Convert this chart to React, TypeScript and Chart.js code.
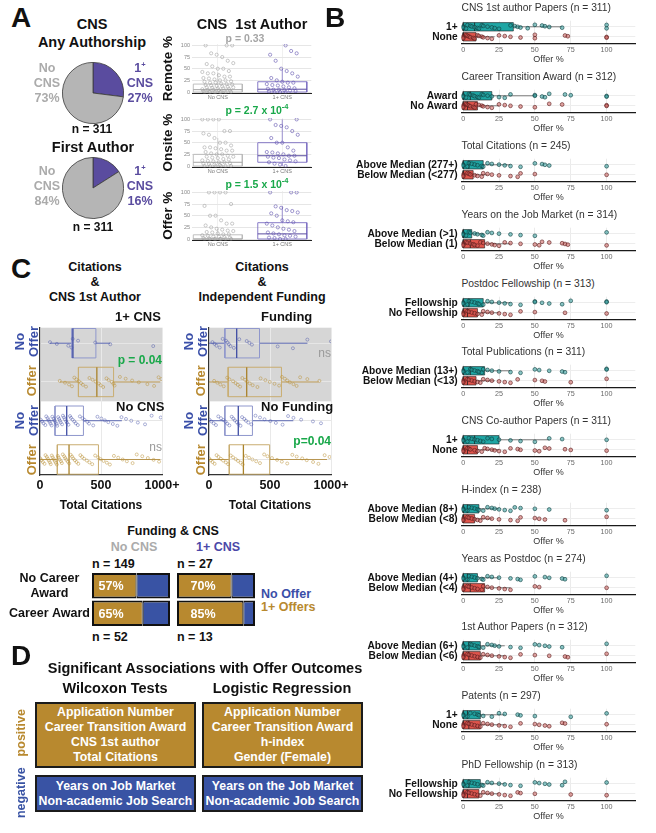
import React, { useEffect, useRef } from "react";
import { Chart, registerables } from "chart.js";

Chart.register(...registerables);

const FONT = "'Liberation Sans', Arial, Helvetica, sans-serif";
Chart.defaults.font.family = FONT;

// ================= DATA =================
// Panel A : pies
const PIE_CATS = ["1+ CNS", "No CNS"];
const PIE_ANY_AUTHOR = [27, 73];
const PIE_FIRST_AUTHOR = [16, 84];

// Panel A : box plots  (box = [low whisker, q1, median, q3, high whisker])
const A_CATS = ["No CNS", "1+ CNS"];
const A_METRICS = ["Remote %", "Onsite %", "Offer %"];
const A_Y_TICKS = [0, 25, 50, 75, 100];
const A_BOX_NO_CNS = [[0, 0, 5, 17, 42], [0, 0, 8, 25, 60], [0, 0, 0, 9, 22]];
const A_BOX_CNS = [[0, 0, 6, 22, 50], [0, 8, 22, 50, 100], [0, 0, 11, 35, 70]];
const A_PTS_NO_CNS = [
  [0, 0, 0, 0, 0, 0, 0, 0, 1, 2, 3, 3, 4, 5, 5, 6, 7, 8, 8, 9, 10, 10, 11, 12, 13, 14, 15, 16, 17, 18, 20, 20, 22, 23, 25, 25, 27, 29, 30, 33, 33, 36, 40, 40, 43, 45, 50, 50, 55, 60, 62, 67, 75, 80, 83, 100, 100, 100],
  [0, 0, 0, 0, 0, 0, 2, 3, 4, 5, 6, 8, 8, 10, 11, 12, 14, 15, 17, 18, 20, 20, 22, 25, 25, 27, 30, 33, 33, 36, 38, 40, 40, 44, 50, 50, 60, 67, 70, 75, 75, 100, 100, 100, 100],
  [0, 0, 0, 0, 0, 0, 0, 0, 1, 2, 3, 4, 5, 5, 7, 8, 10, 10, 12, 14, 15, 17, 18, 20, 22, 25, 29, 33, 33, 40, 50, 50, 71, 75, 100, 100, 100, 100],
];
const A_PTS_CNS = [
  [0, 0, 0, 1, 2, 3, 4, 5, 5, 7, 8, 10, 12, 14, 15, 17, 20, 20, 22, 25, 30, 33, 40, 45, 50, 67, 80, 83, 88, 100],
  [0, 3, 5, 8, 10, 12, 14, 17, 18, 20, 22, 22, 25, 27, 29, 30, 33, 40, 50, 50, 60, 67, 75, 83, 86, 88, 100, 100],
  [0, 0, 2, 3, 5, 7, 8, 10, 12, 14, 17, 20, 22, 25, 29, 33, 36, 38, 40, 50, 55, 57, 60, 62, 67, 70, 100, 100, 100],
];

// Panel B : horizontal box plots of Offer %
const B_TITLES = [
  "CNS 1st author Papers (n = 311)",
  "Career Transition Award (n = 312)",
  "Total Citations (n = 245)",
  "Years on the Job Market (n = 314)",
  "Postdoc Fellowship (n = 313)",
  "Total Publications (n = 311)",
  "CNS Co-author Papers (n = 311)",
  "H-index (n = 238)",
  "Years as Postdoc (n = 274)",
  "1st Author Papers (n = 312)",
  "Patents (n = 297)",
  "PhD Fellowship (n = 313)",
];
const B_TOP_LABELS = ["1+", "Award", "Above Median (277+)", "Above Median (>1)", "Fellowship", "Above Median (13+)", "1+", "Above Median (8+)", "Above Median (4+)", "Above Median (6+)", "1+", "Fellowship"];
const B_BOTTOM_LABELS = ["None", "No Award", "Below Median (<277)", "Below Median (1)", "No Fellowship", "Below Median (<13)", "None", "Below Median (<8)", "Below Median (<4)", "Below Median (<6)", "None", "No Fellowship"];
const B_X_TICK_STEP = 25;
const B_TOP_BOX = [
  [0, 0, 8, 35, 69], [0, 0, 5, 20, 50], [0, 0, 4, 14, 33], [0, 0, 0, 6, 14],
  [0, 0, 4, 14, 33], [0, 0, 5, 15, 33], [0, 0, 8, 25, 60], [0, 0, 3, 11, 25],
  [0, 0, 3, 10, 25], [0, 0, 4, 12, 29], [0, 0, 3, 12, 29], [0, 0, 4, 12, 29],
];
const B_BOTTOM_BOX = [
  [0, 0, 0, 9, 22], [0, 0, 3, 10, 25], [0, 0, 0, 7, 17], [0, 0, 5, 15, 33],
  [0, 0, 3, 10, 25], [0, 0, 3, 9, 22], [0, 0, 3, 10, 25], [0, 0, 0, 8, 20],
  [0, 0, 5, 15, 33], [0, 0, 4, 12, 29], [0, 0, 4, 12, 29], [0, 0, 3, 11, 25],
];
const B_TOP_PTS = [
  [0, 0, 0, 2, 3, 5, 6, 8, 10, 11, 13, 14, 17, 20, 22, 25, 33, 36, 38, 40, 45, 50, 55, 57, 60, 69, 100, 100],
  [0, 0, 0, 2, 4, 5, 7, 8, 10, 11, 13, 14, 17, 20, 25, 29, 33, 50, 50, 55, 57, 60, 71, 75, 100, 100],
  [0, 0, 0, 3, 4, 6, 8, 10, 13, 14, 17, 20, 25, 29, 33, 40, 50, 55, 57, 60, 100],
  [0, 0, 0, 2, 4, 5, 8, 10, 13, 14, 17, 20, 25, 33, 40, 50, 100],
  [0, 0, 0, 3, 4, 6, 8, 10, 11, 14, 17, 20, 25, 29, 33, 40, 50, 50, 55, 60, 69, 75, 100, 100],
  [0, 0, 0, 3, 5, 6, 8, 10, 11, 13, 14, 17, 20, 25, 33, 40, 50, 53, 60, 69, 71, 100, 100],
  [0, 0, 0, 3, 4, 6, 8, 10, 12, 14, 17, 20, 25, 33, 40, 50, 60, 69, 100],
  [0, 0, 0, 3, 4, 6, 8, 10, 11, 14, 17, 20, 22, 25, 29, 33, 36, 40, 50, 60, 100],
  [0, 0, 0, 3, 4, 6, 8, 10, 13, 14, 17, 20, 25, 33, 38, 40, 50, 57, 60, 69, 71, 100],
  [0, 0, 0, 3, 5, 6, 8, 10, 11, 14, 17, 20, 22, 25, 33, 40, 50, 53, 57, 60, 69, 100],
  [0, 0, 0, 3, 5, 8, 10, 11, 14, 20, 25, 29, 38, 40, 50, 75, 100],
  [0, 0, 0, 3, 4, 6, 8, 10, 13, 14, 17, 20, 25, 29, 33, 40, 50, 53, 57, 60, 69, 71, 100],
];
const B_BOTTOM_PTS = [
  [0, 0, 0, 0, 2, 3, 4, 5, 7, 8, 10, 11, 13, 14, 17, 20, 25, 29, 33, 40, 50, 50, 71, 73, 100, 100],
  [0, 0, 0, 0, 2, 3, 4, 5, 7, 8, 9, 11, 13, 14, 17, 20, 25, 29, 33, 40, 50, 60, 69, 100, 100],
  [0, 0, 0, 0, 3, 4, 5, 8, 10, 13, 14, 17, 20, 25, 33, 38, 40, 50, 100],
  [0, 0, 0, 0, 2, 3, 5, 7, 8, 10, 12, 14, 17, 20, 22, 25, 29, 33, 40, 50, 53, 55, 60, 69, 71, 73, 100],
  [0, 0, 0, 0, 3, 4, 6, 8, 10, 13, 14, 17, 20, 25, 29, 33, 40, 50, 71, 100],
  [0, 0, 0, 0, 3, 4, 6, 8, 10, 12, 14, 17, 20, 25, 29, 33, 38, 50, 55, 57, 75, 100],
  [0, 0, 0, 0, 3, 4, 5, 8, 10, 13, 15, 17, 20, 22, 25, 29, 33, 38, 40, 50, 53, 57, 60, 71, 75, 100],
  [0, 0, 0, 0, 3, 4, 6, 8, 10, 12, 14, 17, 20, 25, 33, 38, 40, 50, 53, 57, 71, 100],
  [0, 0, 0, 0, 3, 4, 6, 8, 10, 13, 14, 17, 20, 25, 29, 33, 50, 53, 100],
  [0, 0, 0, 0, 3, 4, 6, 8, 10, 12, 14, 17, 20, 25, 29, 33, 40, 50, 60, 71, 73, 100],
  [0, 0, 0, 0, 3, 4, 6, 8, 10, 12, 14, 17, 20, 25, 29, 33, 40, 50, 53, 57, 60, 69, 71, 100],
  [0, 0, 0, 0, 3, 4, 6, 8, 10, 12, 14, 17, 20, 25, 29, 33, 38, 40, 50, 75, 100],
];

// Panel C : citations box plots  (rows: upper No Offer, upper Offer, lower No Offer, lower Offer)
const C_X_TICKS = [0, 500, 1000];
const C1_FACETS = ["1+ CNS", "No CNS"];
const C1_BOX = [[82, 262, 270, 458, 576], [164, 315, 466, 603, 986], [0, 123, 219, 356, 671], [0, 142, 238, 479, 986]];
const C1_PTS = [
  [82, 138, 232, 258, 268, 312, 452, 576, 928],
  [162, 205, 238, 262, 281, 298, 318, 336, 352, 377, 405, 431, 456, 482, 497, 518, 545, 563, 588, 602, 611, 655, 702, 755, 810, 880, 935, 972, 995],
  [5, 18, 29, 44, 51, 63, 70, 78, 86, 95, 101, 112, 119, 127, 136, 141, 149, 157, 163, 170, 181, 188, 196, 204, 215, 221, 233, 246, 254, 267, 281, 293, 310, 327, 349, 366, 388, 402, 436, 471, 503, 532, 560, 597, 634, 668, 705, 748, 802, 861, 915, 990],
  [2, 12, 24, 37, 45, 56, 64, 72, 81, 88, 97, 104, 113, 121, 129, 138, 146, 153, 161, 172, 179, 187, 198, 207, 216, 228, 239, 251, 263, 272, 286, 299, 314, 331, 345, 362, 384, 405, 428, 452, 476, 497, 521, 548, 573, 606, 641, 678, 712, 759, 793, 838, 884, 931, 976],
];
const C2_FACETS = ["Funding", "No Funding"];
const C2_BOX = [[0, 130, 227, 414, 807], [0, 157, 309, 594, 898], [0, 130, 240, 356, 691], [0, 166, 282, 497, 967]];
const C2_PTS = [
  [28, 46, 61, 88, 112, 139, 152, 163, 176, 204, 248, 309, 331, 352, 563, 688, 806, 1000],
  [42, 68, 93, 121, 149, 168, 197, 218, 236, 255, 273, 296, 312, 334, 358, 397, 423, 462, 498, 537, 575, 598, 622, 641, 663, 692, 718, 747, 806, 905],
  [3, 19, 38, 57, 76, 98, 118, 136, 149, 167, 186, 199, 212, 228, 241, 258, 271, 289, 303, 322, 347, 381, 418, 455, 503, 548, 603, 648, 692, 755, 852, 918],
  [1, 14, 29, 46, 62, 78, 97, 116, 138, 157, 178, 197, 219, 238, 259, 277, 301, 328, 356, 387, 418, 452, 479, 516, 558, 597, 641, 683, 719, 764, 801, 853, 897, 948, 988],
];

// Panel C : Funding & CNS stacked bars
const F_ROWS = [["No Career", "Award"], "Career Award"];
const F_NO_CNS_OFFER = [57, 65];
const F_NO_CNS_NO_OFFER = [43, 35];
const F_CNS_OFFER = [70, 85];
const F_CNS_NO_OFFER = [30, 15];
const F_NO_CNS_N = [149, 52];
const F_CNS_N = [27, 13];

// Panel D
const D_WILCOXON_POS = ["Application Number", "Career Transition Award", "CNS 1st author", "Total Citations"];
const D_LOGISTIC_POS = ["Application Number", "Career Transition Award", "h-index", "Gender (Female)"];
const D_WILCOXON_NEG = ["Years on Job Market", "Non-academic Job Search"];
const D_LOGISTIC_NEG = ["Years on the Job Market", "Non-academic Job Search"];

// ================= STYLE =================
const GOLD = "#B8892F";
const BLUE = "#3953A4";
const PURPLE = "#5A4C9F";
const PIE_GRAY = "#B5B5B5";
const TXT_GRAY = "#ABABAB";
const GREEN = "#19A84A";
const ROW_BLUE = "#3A4FA8";

// deterministic jitter (position only)
const jit = (i: number, amp: number) => ((((i * 53 + 17) % 29) / 28) - 0.5) * 2 * amp;

type St = { edge: string; fill: string | false; med: string; whisk: string; lw: number; mw: number };

function boxSets(pos: number, b: number[], half: number, horiz: boolean, s: St) {
  const [lo, q1, med, q3, hi] = b;
  const P = (v: number, p: number) => (horiz ? { x: v, y: p } : { x: p, y: v });
  const line = (data: any[], color: string, w: number, extra: any = {}) => ({
    data, borderColor: color, borderWidth: w, pointRadius: 0, showLine: true, fill: false, tension: 0, ...extra,
  });
  return [
    line([P(med, pos - half), P(med, pos + half)], s.med, s.mw),
    line([P(q1, pos - half), P(q3, pos - half), P(q3, pos + half), P(q1, pos + half), P(q1, pos - half)], s.edge, s.lw,
      s.fill ? { fill: "shape", backgroundColor: s.fill } : {}),
    line([P(lo, pos), P(q1, pos)], s.whisk, s.lw),
    line([P(q3, pos), P(hi, pos)], s.whisk, s.lw),
  ];
}

function pts(vals: number[], pos: number, amp: number, horiz: boolean, r: number, border: string, bg: string, bw: number) {
  return {
    data: vals.map((v, i) => (horiz ? { x: v, y: pos + jit(i, amp) } : { x: pos + jit(i, amp), y: v })),
    showLine: false, pointRadius: r, pointBorderColor: border, pointBackgroundColor: bg, pointBorderWidth: bw,
    borderWidth: 0, fill: false,
  };
}

const baseOpts = {
  animation: false as const,
  responsive: false,
  events: [] as any[],
  plugins: { legend: { display: false }, tooltip: { enabled: false } },
};

const fixW = (w: number) => (s: any) => { s.width = w; s.paddingTop = 0; s.paddingBottom = 0; };

// ---------- chart configs ----------
const pieConfig = (vals: number[]) => () => ({
  type: "pie",
  data: {
    labels: PIE_CATS,
    datasets: [{ data: vals, backgroundColor: [PURPLE, PIE_GRAY], borderColor: "#3a3a3a", borderWidth: 0.8, hoverOffset: 0 }],
  },
  options: { ...baseOpts, layout: { padding: 0 } },
});

const aBoxConfig = (k: number) => () => {
  const grayS: St = { edge: "#B8B8B8", fill: false, med: "#A5A5A5", whisk: "#CACACA", lw: 0.9, mw: 1 };
  const purS: St = { edge: "#7B6DC2", fill: false, med: "#5A4C9F", whisk: "#9085CC", lw: 0.9, mw: 1 };
  const datasets = [
    pts(A_PTS_NO_CNS[k], 1, 0.24, false, 1.6, "rgba(160,160,160,0.8)", "rgba(0,0,0,0)", 0.7),
    pts(A_PTS_CNS[k], 2, 0.24, false, 1.6, "rgba(98,84,175,0.85)", "rgba(0,0,0,0)", 0.7),
    ...boxSets(1, A_BOX_NO_CNS[k], 0.38, false, grayS),
    ...boxSets(2, A_BOX_CNS[k], 0.38, false, purS),
  ];
  return {
    type: "line",
    data: { datasets },
    options: {
      ...baseOpts,
      layout: { padding: { top: 8, right: 4, left: 0, bottom: 0 } },
      scales: {
        x: {
          type: "linear", min: 0.6, max: 2.45,
          afterBuildTicks: (s: any) => { s.ticks = [{ value: 1 }, { value: 2 }]; },
          ticks: { callback: (v: any) => A_CATS[Math.round(v) - 1], font: { size: 5.5 }, color: "#777", padding: 1, maxRotation: 0, autoSkip: false },
          grid: { color: "#F0F0F0", drawTicks: false },
          border: { display: true, color: "#222", width: 1 },
          afterFit: (s: any) => { s.height = 8.6; },
        },
        y: {
          type: "linear", min: -3, max: 103,
          afterBuildTicks: (s: any) => { s.ticks = A_Y_TICKS.map((v) => ({ value: v })); },
          ticks: { font: { size: 5.5 }, color: "#888", padding: 2, autoSkip: false },
          grid: { color: "#E6E6E6", drawTicks: false },
          border: { display: false },
          title: { display: true, text: A_METRICS[k], font: { size: 13.5, weight: "bold" }, color: "#111", padding: 0 },
          afterFit: fixW(32),
        },
      },
    },
  };
};

const bConfig = (i: number) => () => {
  const tealS: St = { edge: "#1d1d1d", fill: "#1FA6A4", med: "#1d1d1d", whisk: "#2a2a2a", lw: 0.6, mw: 0.8 };
  const redS: St = { edge: "#1d1d1d", fill: "#E0554C", med: "#1d1d1d", whisk: "#2a2a2a", lw: 0.6, mw: 0.8 };
  const datasets = [
    pts(B_TOP_PTS[i], 1, 0.2, true, 1.9, "rgba(12,62,62,0.85)", "rgba(40,150,150,0.55)", 0.7),
    pts(B_BOTTOM_PTS[i], 0, 0.2, true, 1.9, "rgba(90,25,25,0.85)", "rgba(200,90,85,0.55)", 0.7),
    ...boxSets(1, B_TOP_BOX[i], 0.42, true, tealS),
    ...boxSets(0, B_BOTTOM_BOX[i], 0.42, true, redS),
  ];
  return {
    type: "line",
    data: { datasets },
    options: {
      ...baseOpts,
      layout: { padding: { top: 2, right: 4, left: 0, bottom: 0 } },
      scales: {
        x: {
          type: "linear", min: -1, max: 120,
          ticks: { stepSize: B_X_TICK_STEP, includeBounds: false, font: { size: 7.2 }, color: "#6a6a6a", padding: 3, maxRotation: 0 },
          grid: { color: "#EBEBEB", drawTicks: false },
          border: { display: true, color: "#1a1a1a", width: 1.3 },
          title: { display: true, text: "Offer %", font: { size: 9 }, color: "#333", padding: { top: 0, bottom: 0 } },
          afterFit: (s: any) => { s.height = 21.8; },
        },
        y: {
          type: "linear", min: -0.64, max: 1.61,
          afterBuildTicks: (s: any) => { s.ticks = [{ value: 0 }, { value: 1 }]; },
          ticks: { callback: (v: any) => (v === 1 ? B_TOP_LABELS[i] : B_BOTTOM_LABELS[i]), font: { size: 10.2, weight: "bold" }, color: "#111", padding: 4, autoSkip: false },
          grid: { color: "#EDEDED", drawTicks: false },
          border: { display: false },
          afterFit: fixW(126.7),
        },
      },
    },
  };
};

const facetBg = {
  id: "facetBg",
  beforeDraw(chart: any) {
    const { ctx, chartArea: a, scales } = chart;
    const top = a.top;
    const bot = scales.y.getPixelForValue(1.5);
    ctx.save();
    ctx.fillStyle = "#D6D6D6";
    ctx.fillRect(a.left, top, a.right - a.left, bot - top);
    ctx.restore();
  },
};

const cConfig = (boxes: number[][], points: number[][]) => () => {
  const noS: St = { edge: "#8F97CC", fill: false, med: "#3E4CA3", whisk: "#5B68B2", lw: 1, mw: 1.3 };
  const ofS: St = { edge: "#C9AD70", fill: false, med: "#A9822A", whisk: "#B89550", lw: 1, mw: 1.3 };
  const datasets: any[] = [];
  points.forEach((p, r) => {
    datasets.push(pts(p, 3 - r, 0.13, true, 1.5, r % 2 === 0 ? "rgba(75,85,170,0.65)" : "rgba(185,145,55,0.7)", "rgba(0,0,0,0)", 0.7));
  });
  boxes.forEach((b, r) => {
    datasets.push(...boxSets(3 - r, b, 0.38, true, r % 2 === 0 ? noS : ofS));
  });
  return {
    type: "line",
    data: { datasets },
    plugins: [facetBg],
    options: {
      ...baseOpts,
      layout: { padding: { top: 2, right: 22, left: 8, bottom: 0 } },
      scales: {
        x: {
          type: "linear", min: 0, max: 1000,
          afterBuildTicks: (s: any) => { s.ticks = C_X_TICKS.map((v) => ({ value: v })); },
          ticks: { callback: (v: any) => (v === 1000 ? "1000+" : String(v)), font: { size: 12.5, weight: "bold" }, color: "#111", padding: 3, maxRotation: 0, autoSkip: false },
          grid: { color: "#E9E9E9", drawTicks: false },
          border: { display: true, color: "#333", width: 1.2 },
          title: { display: true, text: "Total Citations", font: { size: 12, weight: "bold" }, color: "#111", padding: { top: 0, bottom: 2 } },
          afterFit: (s: any) => { s.height = 40; },
        },
        y: {
          type: "linear", min: -0.4, max: 3.4,
          afterBuildTicks: (s: any) => { s.ticks = [0, 1, 2, 3].map((v) => ({ value: v })); },
          ticks: { display: false },
          grid: { color: "#E6E6E6", drawTicks: false },
          border: { display: true, color: "#333", width: 1.2 },
          afterFit: fixW(0),
        },
      },
    },
  };
};

const pctPlugin = (offset: number) => ({
  id: "pctLabels",
  afterDatasetsDraw(chart: any) {
    const meta = chart.getDatasetMeta(0);
    const ctx = chart.ctx;
    ctx.save();
    ctx.fillStyle = "#FFFFFF";
    ctx.font = `bold 12.5px ${FONT}`;
    ctx.textAlign = "center";
    ctx.textBaseline = "middle";
    meta.data.forEach((el: any, i: number) => {
      const v = chart.data.datasets[0].data[i];
      const base = chart.scales.x.getPixelForValue(0);
      ctx.fillText(`${v}%`, base + offset, el.y + 1);
    });
    ctx.restore();
  },
});

const fundConfig = (offer: number[], noOffer: number[], showLabels: boolean, offset: number) => () => ({
  type: "bar",
  data: {
    labels: F_ROWS,
    datasets: [
      { data: offer, backgroundColor: GOLD, borderColor: "#111", borderWidth: { top: 2, bottom: 2, left: 2, right: 1 }, borderSkipped: false, barPercentage: 0.93, categoryPercentage: 1 },
      { data: noOffer, backgroundColor: BLUE, borderColor: "#111", borderWidth: { top: 2, bottom: 2, left: 1, right: 2 }, borderSkipped: false, barPercentage: 0.93, categoryPercentage: 1 },
    ],
  },
  plugins: [pctPlugin(offset)],
  options: {
    ...baseOpts,
    indexAxis: "y",
    layout: { padding: { top: 2, bottom: 2, left: showLabels ? 0 : 2, right: 2 } },
    scales: {
      x: { type: "linear", stacked: true, min: 0, max: 100, display: false },
      y: {
        type: "category", stacked: true, display: true,
        grid: { display: false }, border: { display: false },
        ticks: { display: showLabels, crossAlign: "center", font: { size: 12.5, weight: "bold" }, color: "#111", padding: -6, autoSkip: false },
        afterFit: fixW(showLabels ? 86 : 0),
      },
    },
  },
});

// ---------- components ----------
function ChartCanvas({ left, top, width, height, make }: { left: number; top: number; width: number; height: number; make: () => any }) {
  const ref = useRef<HTMLCanvasElement>(null);
  useEffect(() => {
    const chart = new Chart(ref.current as HTMLCanvasElement, make());
    return () => chart.destroy();
  }, []);
  return (
    <div style={{ position: "absolute", left, top, width, height }}>
      <canvas ref={ref} width={width} height={height} style={{ width, height, display: "block" }} />
    </div>
  );
}

function Block({ x, y, lines, size = 12.5, lh, color = "#111", bold = true, align = "center", w = 240, pre = false }: any) {
  const L = lh ?? size * 1.2;
  const h = lines.length * L;
  let left = x;
  if (align === "center") left = x - w / 2;
  else if (align === "right") left = x - w;
  return (
    <div style={{ position: "absolute", left, top: y - h / 2, width: w, height: h, fontSize: size, lineHeight: `${L}px`, color, fontWeight: bold ? 700 : 400, textAlign: align, whiteSpace: pre ? "pre" : "nowrap" }}>
      {lines.map((l: any, i: number) => <div key={i}>{l}</div>)}
    </div>
  );
}

function RBlock({ x, y, lines, size = 13, lh = 13.5, color }: any) {
  const h = lines.length * lh;
  const w = 120;
  return (
    <div style={{ position: "absolute", left: x - w / 2, top: y - h / 2, width: w, height: h, transform: "rotate(-90deg)", transformOrigin: "50% 50%", fontSize: size, lineHeight: `${lh}px`, fontWeight: 700, color, textAlign: "center", whiteSpace: "nowrap" }}>
      {lines.map((l: any, i: number) => <div key={i}>{l}</div>)}
    </div>
  );
}

const sup = (t: string) => <span style={{ fontSize: 7.5, verticalAlign: "5px", lineHeight: 0 }}>{t}</span>;

function DBox({ left, top, width, height, bg, lines }: any) {
  return (
    <div style={{ position: "absolute", left, top, width, height, background: bg, border: "2.5px solid #1b1b1b", boxSizing: "border-box", color: "#fff", fontWeight: 700, fontSize: 12.3, lineHeight: "15px", textAlign: "center", display: "flex", flexDirection: "column", justifyContent: "center", whiteSpace: "nowrap" }}>
      {lines.map((l: string, i: number) => <div key={i}>{l}</div>)}
    </div>
  );
}

export default function App() {
  const A_TOPS = [44.3, 117.6, 190.9];
  return (
    <div style={{ position: "absolute", left: 0, top: 0, width: 656, height: 833, background: "#fff", fontFamily: FONT, overflow: "hidden" }}>
      {/* ===== Panel A ===== */}
      <Block x={11} y={18} lines={["A"]} size={28} align="left" w={40} />
      <Block x={92} y={25} lines={["CNS"]} size={14.5} />
      <Block x={92} y={43} lines={["Any Authorship"]} size={14.5} />
      <ChartCanvas left={62} top={62} width={62} height={62} make={pieConfig(PIE_ANY_AUTHOR)} />
      <Block x={47} y={83} lines={["No", "CNS", `${PIE_ANY_AUTHOR[1]}%`]} lh={15} color={TXT_GRAY} />
      <Block x={140} y={83} lines={[<>1{sup("+")}</>, "CNS", `${PIE_ANY_AUTHOR[0]}%`]} lh={15} color={PURPLE} />
      <Block x={92} y={129} lines={["n = 311"]} size={12} />
      <Block x={93} y={148} lines={["First Author"]} size={14.5} />
      <ChartCanvas left={62} top={157} width={62} height={62} make={pieConfig(PIE_FIRST_AUTHOR)} />
      <Block x={47} y={186} lines={["No", "CNS", `${PIE_FIRST_AUTHOR[1]}%`]} lh={15} color={TXT_GRAY} />
      <Block x={140} y={186} lines={[<>1{sup("+")}</>, "CNS", `${PIE_FIRST_AUTHOR[0]}%`]} lh={15} color={PURPLE} />
      <Block x={93} y={227} lines={["n = 311"]} size={12} />

      {A_TOPS.map((t, k) => (
        <ChartCanvas key={k} left={160} top={t - 8} width={156} height={66} make={aBoxConfig(k)} />
      ))}
      <Block x={252} y={25} lines={["CNS  1st Author"]} size={14.5} pre />
      <Block x={245} y={38} lines={["p = 0.33"]} size={10.5} color="#A5A5A5" />
      <Block x={257} y={110} lines={[<>p = 2.7 x 10{sup("-4")}</>]} size={10.5} color={GREEN} />
      <Block x={257} y={184} lines={[<>p = 1.5 x 10{sup("-4")}</>]} size={10.5} color={GREEN} />

      {/* ===== Panel C (citations) ===== */}
      <Block x={11} y={269} lines={["C"]} size={28} align="left" w={40} />
      <Block x={95} y={282} lines={["Citations", "&", "CNS 1st Author"]} size={12.5} lh={15} />
      <Block x={262} y={282} lines={["Citations", "&", "Independent Funding"]} size={12.5} lh={15} />
      <ChartCanvas left={32} top={323} width={152} height={192} make={cConfig(C1_BOX, C1_PTS)} />
      <ChartCanvas left={201} top={323} width={152} height={192} make={cConfig(C2_BOX, C2_PTS)} />
      <Block x={115} y={317} lines={[C1_FACETS[0]]} size={13} align="left" w={60} />
      <Block x={116} y={407} lines={[C1_FACETS[1]]} size={13} align="left" w={60} />
      <Block x={261} y={317} lines={[C2_FACETS[0]]} size={13} align="left" w={80} />
      <Block x={261} y={407} lines={[C2_FACETS[1]]} size={13} align="left" w={80} />
      <Block x={162} y={360} lines={["p = 0.04"]} size={12} color={GREEN} align="right" w={80} />
      <Block x={162} y={447} lines={["ns"]} size={12} bold={false} color="#9A9A9A" align="right" w={40} />
      <Block x={331} y={353} lines={["ns"]} size={12} bold={false} color="#9A9A9A" align="right" w={40} />
      <Block x={331} y={441} lines={["p=0.04"]} size={12} color={GREEN} align="right" w={80} />
      <RBlock x={25.5} y={341} lines={["No", "Offer"]} color={ROW_BLUE} />
      <RBlock x={32} y={381} lines={["Offer"]} color={GOLD} />
      <RBlock x={25.5} y={420} lines={["No", "Offer"]} color={ROW_BLUE} />
      <RBlock x={32} y={460} lines={["Offer"]} color={GOLD} />
      <RBlock x={194.5} y={341} lines={["No", "Offer"]} color={ROW_BLUE} />
      <RBlock x={201} y={381} lines={["Offer"]} color={GOLD} />
      <RBlock x={194.5} y={420} lines={["No", "Offer"]} color={ROW_BLUE} />
      <RBlock x={201} y={460} lines={["Offer"]} color={GOLD} />

      {/* ===== Funding & CNS ===== */}
      <Block x={173} y={531} lines={["Funding & CNS"]} size={12.5} />
      <Block x={134} y={547} lines={["No CNS"]} size={12.5} color={TXT_GRAY} />
      <Block x={218} y={547} lines={["1+ CNS"]} size={12.5} color="#4B48A8" />
      <Block x={92} y={564} lines={[`n = ${F_NO_CNS_N[0]}`]} size={12.5} align="left" w={60} />
      <Block x={177} y={564} lines={[`n = ${F_CNS_N[0]}`]} size={12.5} align="left" w={60} />
      <Block x={92} y={637} lines={[`n = ${F_NO_CNS_N[1]}`]} size={12.5} align="left" w={60} />
      <Block x={177} y={637} lines={[`n = ${F_CNS_N[1]}`]} size={12.5} align="left" w={60} />
      <ChartCanvas left={6} top={570} width={166} height={59} make={fundConfig(F_NO_CNS_OFFER, F_NO_CNS_NO_OFFER, true, 19)} />
      <ChartCanvas left={175} top={570} width={82} height={59} make={fundConfig(F_CNS_OFFER, F_CNS_NO_OFFER, false, 26)} />
      <Block x={261} y={594} lines={["No Offer"]} size={12.5} color={ROW_BLUE} align="left" w={70} />
      <Block x={261} y={607} lines={["1+ Offers"]} size={12.5} color={GOLD} align="left" w={70} />

      {/* ===== Panel B ===== */}
      <Block x={325} y={18} lines={["B"]} size={28} align="left" w={40} />
      {B_TITLES.map((t, i) => {
        const yt = Math.round(8.3 + 68.8 * i);
        return (
          <React.Fragment key={i}>
            <Block x={461.5} y={yt} lines={[t]} size={10.3} bold={false} color="#333" align="left" w={180} />
            <ChartCanvas left={335} top={yt + 8} width={305} height={49} make={bConfig(i)} />
          </React.Fragment>
        );
      })}

      {/* ===== Panel D ===== */}
      <Block x={11} y={656} lines={["D"]} size={28} align="left" w={40} />
      <Block x={205} y={669} lines={["Significant Associations with Offer Outcomes"]} size={14.5} w={360} />
      <Block x={115} y={689} lines={["Wilcoxon Tests"]} size={14.5} />
      <Block x={282} y={689} lines={["Logistic Regression"]} size={14.5} />
      <RBlock x={22} y={733} lines={["positive"]} size={12.5} color={GOLD} />
      <RBlock x={22} y={793} lines={["negative"]} size={12.5} color={BLUE} />
      <DBox left={35} top={702} width={161} height={66} bg={GOLD} lines={D_WILCOXON_POS} />
      <DBox left={202} top={702} width={161} height={66} bg={GOLD} lines={D_LOGISTIC_POS} />
      <DBox left={35} top={775} width={161} height={37} bg={BLUE} lines={D_WILCOXON_NEG} />
      <DBox left={202} top={775} width={161} height={37} bg={BLUE} lines={D_LOGISTIC_NEG} />
    </div>
  );
}
